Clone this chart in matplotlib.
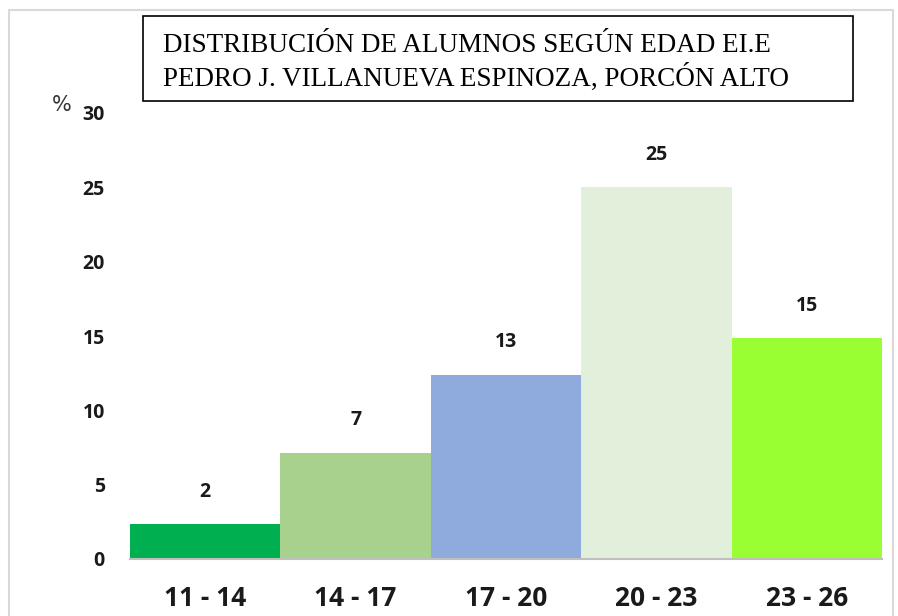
import matplotlib
matplotlib.use("Agg")
import matplotlib.pyplot as plt
from matplotlib.patches import Rectangle
from matplotlib.lines import Line2D
import numpy as np

age_ranges = ["11 - 14", "14 - 17", "17 - 20", "20 - 23", "23 - 26"]
percent = [2.35, 7.15, 12.4, 25.0, 14.85]
value_labels = ["2", "7", "13", "25", "15"]
bar_colors = ["#00B050", "#A9D18E", "#8FAADC", "#E2EFDA", "#99FF33"]
y_ticks = [0, 5, 10, 15, 20, 25, 30]

FONT = "Open Sans"
INK = "#1a1a1a"

W, H = 898, 616
fig = plt.figure(figsize=(W / 100, H / 100), dpi=100)
fig.patch.set_facecolor("white")

ax = fig.add_axes([130 / W, (H - 559) / H, (882 - 130) / W, (559 - 113) / H])
x = np.arange(len(age_ranges))
ax.bar(x, percent, width=1.0, color=bar_colors, align="center")
ax.set_xlim(-0.5, len(age_ranges) - 0.5)
ax.set_ylim(0, 30)

for xi, v, lab in zip(x, percent, value_labels):
    ax.annotate(lab, (xi, v), xytext=(0, 16), textcoords="offset points",
                ha="center", va="bottom", fontsize=14, fontweight="bold",
                family=FONT, color=INK)

for s in ("top", "right", "left"):
    ax.spines[s].set_visible(False)
ax.spines["bottom"].set_color("#bfbfbf")
ax.spines["bottom"].set_linewidth(1.5)

ax.set_yticks(y_ticks)
ax.set_yticklabels([str(t) for t in y_ticks], fontsize=14, fontweight="bold",
                   family=FONT, color=INK)
ax.tick_params(axis="y", length=0, pad=18)
ax.set_xticks(x)
ax.set_xticklabels(age_ranges, fontsize=19, fontweight="bold",
                   family=FONT, color=INK)
ax.tick_params(axis="x", length=0, pad=19)

fig.text(62 / W, 1 - 105 / H, "%", fontsize=15, ha="center", va="center",
         family="DejaVu Sans", color="#333333")

# title box
fig.patches.append(Rectangle((143 / W, 1 - 101 / H), (853 - 143) / W, (101 - 16) / H,
                             transform=fig.transFigure, fill=False,
                             edgecolor="black", linewidth=1.2))
fig.text(163 / W, 1 - 45 / H, "DISTRIBUCIÓN DE ALUMNOS SEGÚN EDAD EI.E",
         fontsize=19.5, family="Liberation Serif", ha="left", va="center")
fig.text(163 / W, 1 - 78 / H, "PEDRO J. VILLANUEVA ESPINOZA, PORCÓN ALTO",
         fontsize=19.5, family="Liberation Serif", ha="left", va="center")

# outer frame
fig.lines.append(Line2D([9 / W, 9 / W, 893 / W, 893 / W],
                        [0, 1 - 10 / H, 1 - 10 / H, 0],
                        transform=fig.transFigure, color="#d9d9d9", lw=1.5))

fig.savefig("out.png", dpi=100)
